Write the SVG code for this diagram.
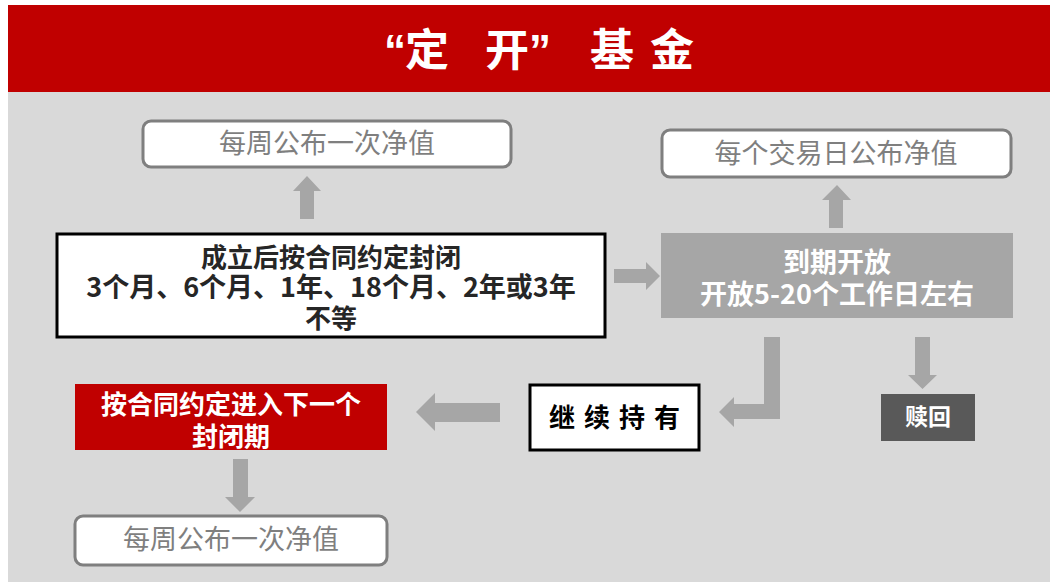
<svg xmlns="http://www.w3.org/2000/svg" width="1052" height="586" viewBox="0 0 1052 586">
<style>
.cjk{font-family:"Noto Sans CJK SC","Noto Sans",sans-serif;}
.nav{fill:#fff;stroke:#7f7f7f;stroke-width:3;}
.navt{fill:#7f7f7f;font-size:27px;text-anchor:middle;}
.arr{fill:#a6a6a6;}
.bold{font-weight:bold;text-anchor:middle;}
.q{font-family:"Liberation Sans",sans-serif;}
</style>
<rect x="0" y="0" width="1052" height="586" fill="#ffffff"/>
<rect x="8" y="92" width="1042" height="490" fill="#d9d9d9"/>
<g id="header">
<rect x="8" y="5" width="1042" height="87" fill="#c00000"/>
<text class="cjk" y="66" font-size="44" font-weight="bold" fill="#ffffff" text-anchor="middle"><tspan class="q" x="395">“</tspan><tspan x="427">定</tspan><tspan x="507">开</tspan><tspan class="q" x="540">”</tspan><tspan x="612">基</tspan><tspan x="672">金</tspan></text>
</g>
<g id="connectors">
<polygon class="arr" points="300,219 300,191 293,191 307,176 321,191 314,191 314,219"/>
<polygon class="arr" points="829,228 829,200 822,200 837,185 851,200 843,200 843,228"/>
<polygon class="arr" points="614,269 646,269 646,262 660,276 646,290 646,283 614,283"/>
<polygon class="arr" points="764,337 780,337 780,419 734,419 734,427 719,412 734,397 734,404 764,404"/>
<polygon class="arr" points="915,337 930,337 930,375 937,375 922.5,389 908,375 915,375"/>
<polygon class="arr" points="500,403 500,422 435,422 435,431 416,412 435,393 435,403"/>
<polygon class="arr" points="233,459 248,459 248,497 255,497 240,512 225,497 233,497"/>
</g>
<g id="weekly-top">
<rect class="nav" x="143" y="121" width="368" height="46" rx="8"/>
<text class="cjk navt" x="327" y="153">每周公布一次净值</text>
</g>
<g id="daily-top">
<rect class="nav" x="662" y="130" width="349" height="47" rx="8"/>
<text class="cjk navt" x="836" y="163">每个交易日公布净值</text>
</g>
<g id="closed">
<rect x="57" y="234" width="548" height="103" fill="#ffffff" stroke="#000000" stroke-width="3"/>
<text class="cjk bold" x="331" y="267" font-size="26" fill="#262626">成立后按合同约定封闭</text>
<text class="cjk bold" x="331" y="297" font-size="27" fill="#262626">3个月、6个月、1年、18个月、2年或3年</text>
<text class="cjk bold" x="331" y="328" font-size="26" fill="#262626">不等</text>
</g>
<g id="open">
<rect x="661" y="233" width="352" height="85" fill="#a6a6a6"/>
<text class="cjk bold" x="837" y="272" font-size="27" fill="#ffffff">到期开放</text>
<text class="cjk bold" x="837" y="304" font-size="27" fill="#ffffff">开放5-20个工作日左右</text>
</g>
<g id="redeem">
<rect x="881" y="394" width="94" height="47" fill="#595959"/>
<text class="cjk bold" x="928" y="425" font-size="23" fill="#ffffff">赎回</text>
</g>
<g id="hold">
<rect x="530" y="385" width="169" height="65" fill="#ffffff" stroke="#000000" stroke-width="3"/>
<text class="cjk bold" x="619" y="427" font-size="26" fill="#000000" letter-spacing="9">继续持有</text>
</g>
<g id="next-period">
<rect x="75" y="384" width="312" height="66" fill="#c00000"/>
<text class="cjk bold" x="231" y="414" font-size="26" fill="#ffffff">按合同约定进入下一个</text>
<text class="cjk bold" x="231" y="446" font-size="26" fill="#ffffff">封闭期</text>
</g>
<g id="weekly-bottom">
<rect class="nav" x="75" y="516" width="312" height="49" rx="8"/>
<text class="cjk navt" x="231" y="549">每周公布一次净值</text>
</g>
</svg>
